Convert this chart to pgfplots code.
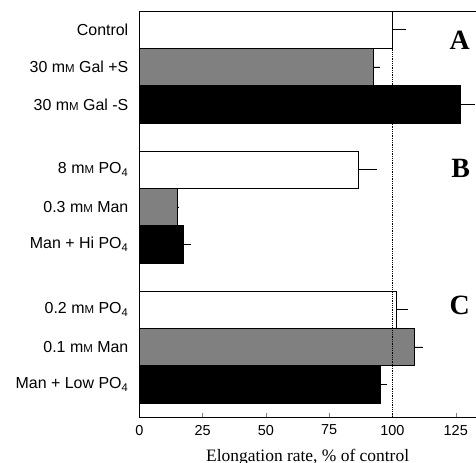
\documentclass[border=0pt]{standalone}
\usepackage{pgfplots}
\pgfplotsset{compat=1.18}
\usepackage{fontspec}
\setmainfont{Liberation Sans}
\newfontfamily\seriffont{Liberation Serif}
\newcommand\mM{m{\fontsize{11.5}{12}\selectfont M}}
\begin{document}
\begin{tikzpicture}
\begin{axis}[
  scale only axis,
  width=336.7bp, height=406bp,
  xbar, bar width=1,
  xmin=0, xmax=133, ymin=0, ymax=10.875,
  axis x line*=box, axis y line*=left,
  xtick={0,25,50,75,100,125},
  xtick pos=bottom,
  tick align=inside,
  major tick length=4bp,
  ytick={0.875,1.875,2.875,4.625,5.625,6.625,8.375,9.375,10.375},
  yticklabels={Man + Low PO\textsubscript{4},0.1 \mM{} Man,0.2 \mM{} PO\textsubscript{4},Man + Hi PO\textsubscript{4},0.3 \mM{} Man,8 \mM{} PO\textsubscript{4},30 \mM{} Gal -S,30 \mM{} Gal +S,Control},
  ytick style={draw=none},
  yticklabel style={font=\fontsize{16}{18}\selectfont, xshift=-7.5bp},
  xticklabel style={font=\fontsize{14.5}{16}\selectfont, yshift=-4.5bp},
  /pgf/number format/assume math mode=true,
  xlabel={Elongation rate, \% of control},
  xlabel style={font=\seriffont\fontsize{17.5}{20}\selectfont, at={(axis description cs:0.5,0)}, anchor=base, yshift=-44.2bp},
  axis line style={line width=0.8pt},
  clip=false,
  error bars/error bar style={line width=0.8pt, black},
]
\addplot[bar shift=0pt, fill=white, draw=black, line width=0.8pt,
  error bars/.cd, x dir=plus, x explicit, error mark=none]
  coordinates {(100,10.375) +- (5.5,0) (86.5,6.625) +- (7.5,0) (101.6,2.875) +- (4.6,0)};
\addplot[bar shift=0pt, fill=black!50, draw=black, line width=0.8pt,
  error bars/.cd, x dir=plus, x explicit, error mark=none]
  coordinates {(92.4,9.375) +- (2.6,0) (15.0,5.625) +- (0.7,0) (108.8,1.875) +- (3.1,0)};
\addplot[bar shift=0pt, fill=black, draw=black, line width=0.8pt,
  error bars/.cd, x dir=plus, x explicit, error mark=none]
  coordinates {(126.9,8.375) +- (5.6,0) (17.6,4.625) +- (2.8,0) (95.4,0.875) +- (2.6,0)};
\draw[densely dotted, line width=0.8pt] (axis cs:100,0) -- (axis cs:100,10.875);
\node[font=\seriffont\bfseries\fontsize{28}{30}\selectfont] at (axis cs:126.6,10.1) {A};
\node[font=\seriffont\bfseries\fontsize{28}{30}\selectfont] at (axis cs:126.9,6.67) {B};
\node[font=\seriffont\bfseries\fontsize{28}{30}\selectfont] at (axis cs:126.6,3.0) {C};
\coordinate (bl) at (rel axis cs:0,0);
\coordinate (tr) at (rel axis cs:1,1);
\end{axis}
\pgfresetboundingbox
\path ([xshift=-139.3bp,yshift=-46bp]bl) rectangle ([yshift=11bp]tr);
\end{tikzpicture}
\end{document}
